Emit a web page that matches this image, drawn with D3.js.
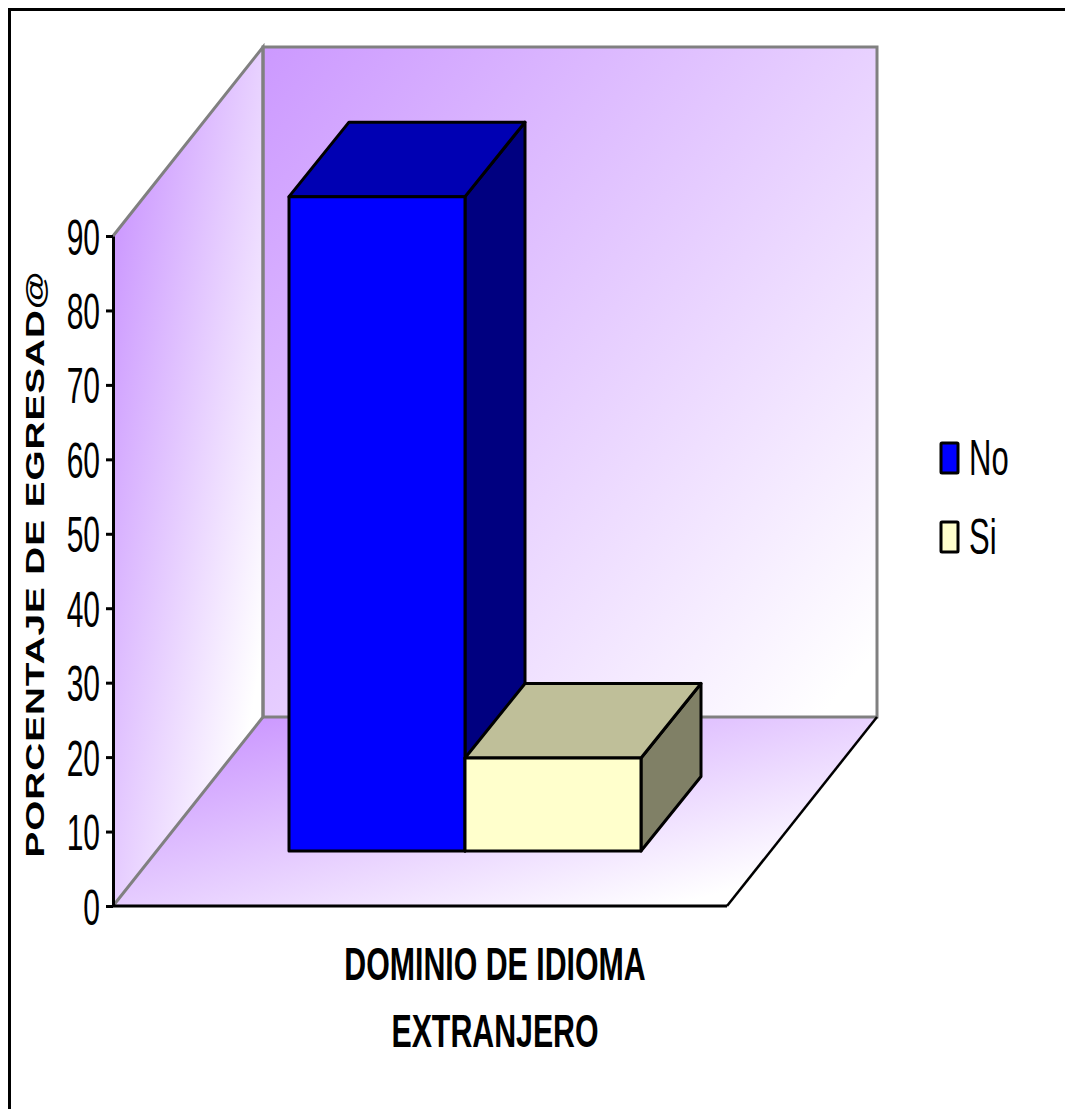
<!DOCTYPE html>
<html><head><meta charset="utf-8">
<style>html,body{margin:0;padding:0;background:#fff}svg{display:block}text{font-family:"Liberation Sans",Arial,sans-serif;fill:#000}</style>
<script src="https://cdn.jsdelivr.net/npm/d3@7/dist/d3.min.js"></script>
</head><body><svg id="c" width="1065" height="1109"></svg>
<script>
const seriesNames = ["No", "Si"];
const seriesValues = [87.9, 12.5];
const yTickValues = [0,10,20,30,40,50,60,70,80,90];
const xTitleLines = ["DOMINIO DE IDIOMA", "EXTRANJERO"];
const yTitle = "PORCENTAJE DE EGRESAD@";

const svg = d3.select("#c");
const fillColor = d3.scaleOrdinal().domain(seriesNames).range(["#0000ff", "#ffffcc"]);
const topColor = d3.scaleOrdinal().domain(seriesNames).range(["#0000b3", "#bfbf99"]);
const sideColor = d3.scaleOrdinal().domain(seriesNames).range(["#000080", "#808066"]);

const y = d3.scaleLinear().domain([0, 90]).range([906, 236]);
const x = d3.scaleBand().domain(seriesNames).range([289, 641]);
const x0 = 113, floorW = 614, backDx = 150, backDy = -189;
const barBase = 851, barDx = 60, barDy = -74.5;
const yBar = v => barBase - (y(0) - y(v));

// gradients
const defs = svg.append("defs");
function grad(id, x1, y1, x2, y2, stops) {
  const g = defs.append("linearGradient").attr("id", id).attr("gradientUnits", "userSpaceOnUse")
    .attr("x1", x1).attr("y1", y1).attr("x2", x2).attr("y2", y2);
  stops.forEach(s => g.append("stop").attr("offset", s[0]).attr("stop-color", s[1]));
}
const stops = [[0, "#cc99ff"], [1, "#ffffff"]];
grad("back", 263, 47, 922, 596, stops);
grad("side", 113, 236, 325, 271, stops);
grad("floor", 263, 717, 337, 995, stops);

const pts = a => a.map(p => p.join(",")).join(" ");
const yB = y(90) + backDy, yF = y(0) + backDy;
// frame
svg.append("path").attr("d", "M9.5,1109V9.5H1065").attr("fill", "none").attr("stroke", "#000").attr("stroke-width", 3);
// walls
svg.append("polygon").attr("points", pts([[x0, y(90)], [x0 + backDx, yB], [x0 + backDx, yF], [x0, y(0)]]))
  .attr("fill", "url(#side)");
svg.append("polygon").attr("points", pts([[x0, y(0)], [x0 + backDx, yF], [x0 + backDx + floorW, yF], [x0 + floorW, y(0)]]))
  .attr("fill", "url(#floor)");
svg.append("rect").attr("x", x0 + backDx).attr("y", yB).attr("width", floorW).attr("height", yF - yB)
  .attr("fill", "url(#back)").attr("stroke", "#808080").attr("stroke-width", 3);
svg.append("polyline").attr("points", pts([[x0, y(90)], [x0 + backDx, yB], [x0 + backDx, yF], [x0, y(0)]]))
  .attr("fill", "none").attr("stroke", "#808080").attr("stroke-width", 3);
// floor right edge
svg.append("line").attr("x1", x0 + floorW).attr("y1", y(0)).attr("x2", x0 + backDx + floorW).attr("y2", yF)
  .attr("stroke", "#000").attr("stroke-width", 2.5);

// bars
const bars = svg.append("g").selectAll("g").data(seriesNames.map((n, i) => ({n, v: seriesValues[i]}))).join("g")
  .attr("stroke", "#000").attr("stroke-width", 3).attr("stroke-linejoin", "round");
bars.append("polygon").attr("fill", d => sideColor(d.n)).attr("points", d => {
  const r = x(d.n) + x.bandwidth();
  return pts([[r, yBar(d.v)], [r + barDx, yBar(d.v) + barDy], [r + barDx, barBase + barDy], [r, barBase]]);
});
bars.append("polygon").attr("fill", d => topColor(d.n)).attr("points", d => {
  const l = x(d.n), r = l + x.bandwidth(), t = yBar(d.v);
  return pts([[l, t], [l + barDx, t + barDy], [r + barDx, t + barDy], [r, t]]);
});
bars.append("rect").attr("fill", d => fillColor(d.n))
  .attr("x", d => x(d.n)).attr("y", d => yBar(d.v)).attr("width", x.bandwidth()).attr("height", d => barBase - yBar(d.v));

// y axis
const ax = svg.append("g").attr("transform", `translate(${x0},0)`)
  .call(d3.axisLeft(y).tickValues(yTickValues).tickSize(7).tickPadding(0).tickSizeOuter(0));
ax.select(".domain").attr("stroke", "#000").attr("stroke-width", 3);
ax.selectAll(".tick line").attr("stroke", "#000").attr("stroke-width", 3);
ax.selectAll(".tick text").attr("font-size", 50).attr("dy", null).attr("x", 0).attr("y", 0)
  .attr("font-family", "Liberation Sans").attr("text-anchor", "end").attr("dominant-baseline", "auto")
  .attr("transform", "translate(-13,18) scale(0.6,1)");
// x axis line
svg.append("line").attr("x1", x0).attr("x2", x0 + floorW).attr("y1", y(0)).attr("y2", y(0))
  .attr("stroke", "#000").attr("stroke-width", 3);

// x title
svg.selectAll(".xt").data(xTitleLines).join("text").attr("class", "xt")
  .attr("text-anchor", "middle").attr("font-size", 47).attr("font-weight", "bold")
  .attr("transform", (d, i) => `translate(495,${980 + i * 67}) scale(0.645,1)`).text(d => d);

// y title
svg.append("text").attr("text-anchor", "middle").attr("font-size", 25).attr("font-weight", "bold")
  .attr("letter-spacing", 0.6)
  .attr("transform", "translate(44,564) rotate(-90) scale(1.55,1)").text(yTitle);

// legend
const leg = svg.append("g").selectAll("g").data(seriesNames).join("g")
  .attr("transform", (d, i) => `translate(941,${443 + i * 79})`);
leg.append("rect").attr("width", 17).attr("height", 30).attr("fill", d => fillColor(d))
  .attr("stroke", "#000").attr("stroke-width", 3).attr("rx", 1);
leg.append("text").attr("font-size", 50).attr("transform", "translate(28,32) scale(0.62,1)").text(d => d);
</script></body></html>
